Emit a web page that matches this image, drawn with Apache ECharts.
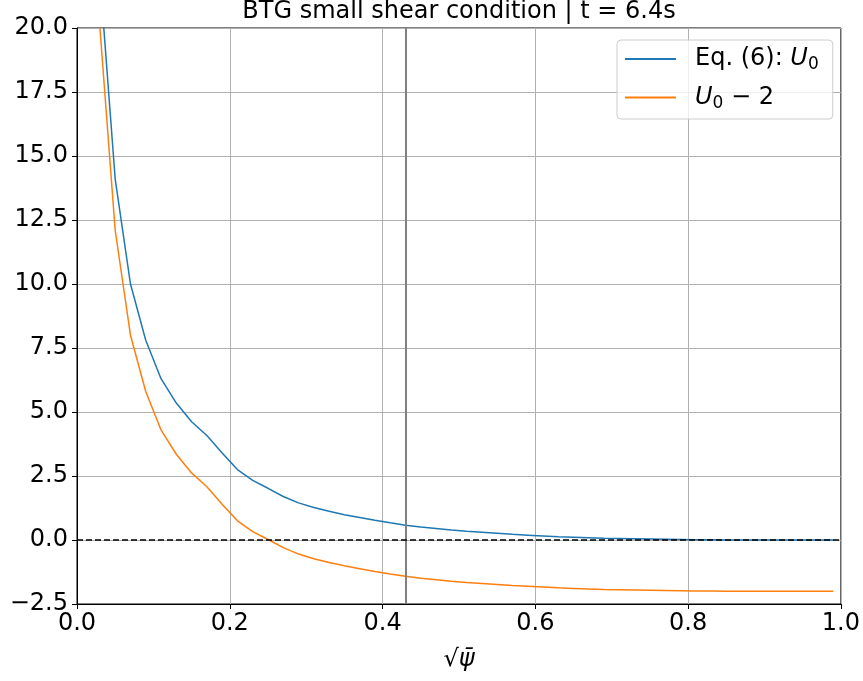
<!DOCTYPE html>
<html>
<head>
<meta charset="utf-8">
<script src="https://cdn.jsdelivr.net/npm/echarts@6/dist/echarts.min.js"></script>
<style>
  html, body { margin: 0; padding: 0; background: #fff; }
  #chart { width: 863px; height: 681px; }
</style>
</head>
<body>
<div id="chart"></div>
<script>
// sqrt(psi_bar) sample points
var xs = [0.03, 0.05, 0.07, 0.09, 0.11, 0.13, 0.15, 0.17, 0.19, 0.21,
          0.23, 0.25, 0.27, 0.29, 0.31, 0.33, 0.35, 0.37, 0.39, 0.41,
          0.43, 0.45, 0.47, 0.49, 0.51, 0.53, 0.55, 0.57, 0.59, 0.61,
          0.63, 0.65, 0.67, 0.69, 0.71, 0.73, 0.75, 0.77, 0.79, 0.81,
          0.83, 0.85, 0.87, 0.89, 0.91, 0.93, 0.95, 0.97, 0.99];

// Eq. (6): U0
var u0 = [22.0, 14.1, 10.0, 7.8, 6.3, 5.35, 4.62, 4.08, 3.4, 2.75,
          2.33, 2.02, 1.70, 1.45, 1.27, 1.12, 0.99, 0.88, 0.77, 0.67,
          0.58, 0.51, 0.45, 0.39, 0.34, 0.30, 0.26, 0.22, 0.19, 0.16,
          0.13, 0.11, 0.09, 0.07, 0.06, 0.05, 0.04, 0.03, 0.02, 0.01,
          0.01, 0.0, 0.0, 0.0, 0.0, 0.0, 0.0, 0.0, 0.0];

// U0 - 2
var u0m2 = [20.0, 12.1, 8.0, 5.8, 4.3, 3.35, 2.62, 2.08, 1.4, 0.75,
            0.33, 0.02, -0.30, -0.55, -0.73, -0.88, -1.01, -1.12, -1.23, -1.33,
            -1.42, -1.49, -1.55, -1.61, -1.66, -1.70, -1.74, -1.78, -1.81, -1.84,
            -1.87, -1.89, -1.91, -1.93, -1.94, -1.95, -1.96, -1.97, -1.98, -1.99,
            -1.99, -2.0, -2.0, -2.0, -2.0, -2.0, -2.0, -2.0, -2.0];

var yTicks = [-2.5, 0.0, 2.5, 5.0, 7.5, 10.0, 12.5, 15.0, 17.5, 20.0];
var vLineX = 0.43;

function pairs(x, y) {
    return x.map(function (v, i) { return [v, y[i]]; });
}

function tick(v) {
    return v.toFixed(1).replace('-', '\u2212');
}

var myChart = echarts.init(document.getElementById('chart'));
var font = 'DejaVu Sans';

var option = {
    animation: false,
    backgroundColor: '#fff',
    title: {
        text: 'BTG small shear condition | t = 6.4s',
        left: 459,
        textAlign: 'center',
        top: 0,
        padding: 0,
        textStyle: { fontFamily: font, fontSize: 24, fontWeight: 'normal', color: '#000' }
    },
    legend: {
        orient: 'vertical',
        left: 617,
        top: 40,
        padding: [7, 14, 7, 8],
        itemGap: 12,
        itemWidth: 51,
        itemHeight: 2,
        icon: 'rect',
        backgroundColor: 'rgba(255,255,255,0.8)',
        borderColor: '#cccccc',
        borderWidth: 1,
        borderRadius: 4,
        data: ['Eq. (6): U0', 'U0 - 2'],
        formatter: function (name) {
            if (name === 'U0 - 2') return '{i|U}{s|0}{n| − 2}';
            return '{n|Eq. (6): }{i|U}{s|0}';
        },
        textStyle: {
            fontFamily: font,
            fontSize: 24,
            color: '#000',
            padding: [0, 0, 0, 14],
            rich: {
                n: { fontFamily: font, fontSize: 24, color: '#000' },
                i: { fontFamily: font, fontSize: 24, fontStyle: 'italic', color: '#000' },
                s: { fontFamily: font, fontSize: 17, color: '#000', padding: [12, 0, 0, 0] }
            }
        }
    },
    grid: {
        left: 77,
        right: 22,
        top: 28,
        bottom: 77,
        show: true,
        borderColor: '#000',
        borderWidth: 1,
        backgroundColor: 'transparent'
    },
    xAxis: {
        type: 'value',
        min: 0,
        max: 1,
        interval: 0.2,
        name: '√ψ̄',
        nameLocation: 'middle',
        nameGap: 44,
        nameTextStyle: { fontFamily: font, fontSize: 24, fontStyle: 'italic', color: '#000' },
        axisLine: { show: true, onZero: false, lineStyle: { color: '#000', width: 1 } },
        axisTick: { show: true, length: 5, lineStyle: { color: '#000' } },
        axisLabel: {
            fontFamily: font, fontSize: 24, color: '#000', margin: 8,
            formatter: tick
        },
        splitLine: { show: true, lineStyle: { color: '#b0b0b0', width: 1 } }
    },
    yAxis: {
        type: 'value',
        min: yTicks[0],
        max: yTicks[yTicks.length - 1],
        interval: 2.5,
        axisLine: { show: true, onZero: false, lineStyle: { color: '#000', width: 1 } },
        axisTick: { show: true, length: 5, lineStyle: { color: '#000' } },
        axisLabel: {
            fontFamily: font, fontSize: 24, color: '#000', margin: 9,
            formatter: tick
        },
        splitLine: { show: true, lineStyle: { color: '#b0b0b0', width: 1 } }
    },
    series: [{
        name: 'Eq. (6): U0',
        type: 'line',
        data: pairs(xs, u0),
        showSymbol: false,
        symbol: 'none',
        clip: true,
        color: '#1f77b4',
        lineStyle: { width: 1.5, color: '#1f77b4' },
        z: 3,
        markLine: {
            silent: true,
            symbol: 'none',
            label: { show: false },
            data: [
                { xAxis: vLineX, lineStyle: { color: '#808080', width: 2, type: 'solid' } }
            ]
        }
    }, {
        name: 'U0 - 2',
        type: 'line',
        data: pairs(xs, u0m2),
        showSymbol: false,
        symbol: 'none',
        clip: true,
        color: '#ff7f0e',
        lineStyle: { width: 1.5, color: '#ff7f0e' },
        z: 3,
        markLine: {
            silent: true,
            symbol: 'none',
            label: { show: false },
            data: [
                { yAxis: 0, lineStyle: { color: '#000', width: 1.5, type: [6, 3] } }
            ]
        }
    }]
};

myChart.setOption(option);
</script>
</body>
</html>
